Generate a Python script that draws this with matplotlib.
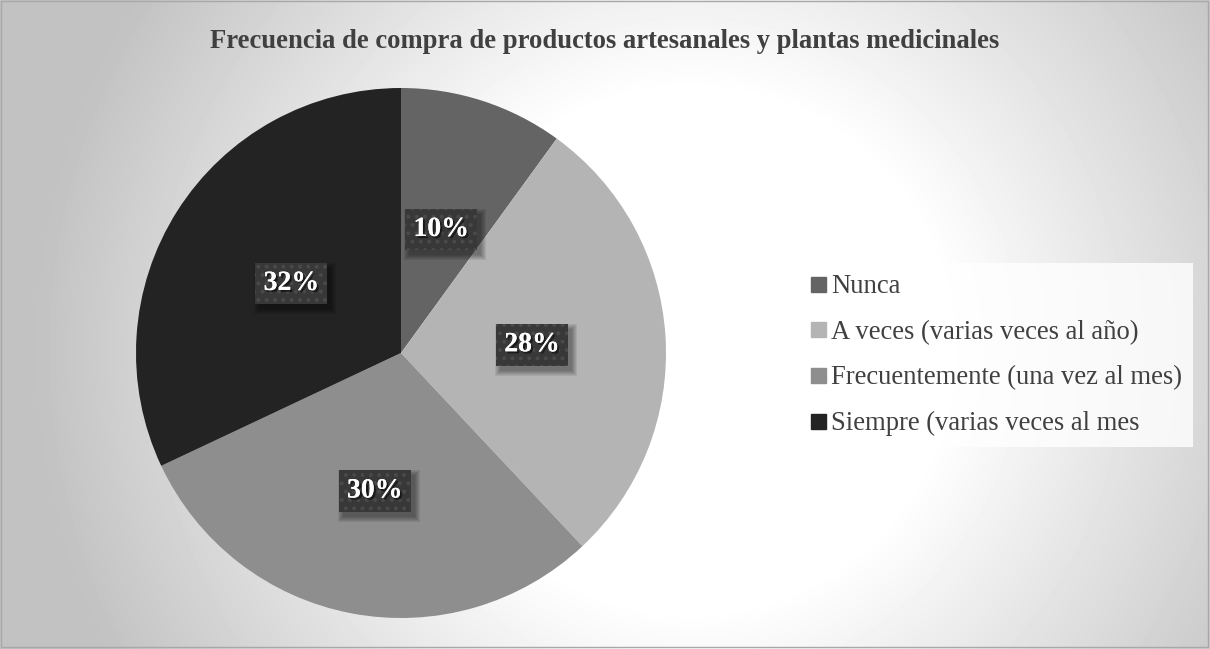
import numpy as np
import matplotlib.pyplot as plt
import matplotlib.patheffects as pe
from matplotlib.lines import Line2D
from matplotlib.patches import Rectangle
from matplotlib.transforms import IdentityTransform

plt.rcParams['font.family'] = ['Liberation Serif', 'DejaVu Serif']
plt.rcParams['hatch.linewidth'] = 1.6

title = "Frecuencia de compra de productos artesanales y plantas medicinales"
categories = ["Nunca", "A veces (varias veces al año)",
              "Frecuentemente (una vez al mes)", "Siempre (varias veces al mes"]
shares = [10, 28, 30, 32]
colors = ["#646464", "#b4b4b4", "#8e8e8e", "#232323"]

W, H = 1210, 649
fig = plt.figure(figsize=(W / 100, H / 100), dpi=100)

# radial grey background: white core that fades towards the edges
bg = fig.add_axes([0, 0, 1, 1])
yy, xx = np.mgrid[0:H, 0:W]
dist = np.hypot(xx - 690, yy - 350)
shade = np.clip(1.0 - 0.23 * (dist - 260) / 380, 0.76, 1.0)
bg.imshow(shade, cmap="gray", vmin=0, vmax=1, extent=[0, W, H, 0],
          aspect="auto", interpolation="bilinear")
bg.add_patch(Rectangle((1, 1), W - 3, H - 3, fill=False, ec="#a8a8a8", lw=1))
bg.set_xlim(0, W)
bg.set_ylim(H, 0)
bg.axis("off")

bg.text(605, 42, title, ha="center", va="center", fontsize=19.2,
        fontweight="bold", color="#404040")

# pie
cx, cy, r = 401, 353, 265
ax = fig.add_axes([(cx - r) / W, (H - cy - r) / H, 2 * r / W, 2 * r / H])
wedges, _ = ax.pie(shares, colors=colors, startangle=90, counterclock=False,
                   radius=1.0, wedgeprops=dict(linewidth=0))
ax.set_xlim(-1, 1)
ax.set_ylim(-1, 1)
ax.set_aspect("equal")

label_r = [0.49, 0.495, 0.53, 0.49]
total = sum(shares)
start = 90.0
labels = []
for v, rr in zip(shares, label_r):
    mid = np.deg2rad(start - 360 * v / total / 2)
    start -= 360 * v / total
    t = ax.text(rr * np.cos(mid), rr * np.sin(mid), f"{round(100 * v / total)}%",
                ha="center", va="center", fontsize=20, fontweight="bold",
                color="white", zorder=4,
                path_effects=[pe.withSimplePatchShadow(offset=(1.5, -1.5),
                                                       shadow_rgbFace="black",
                                                       alpha=0.55),
                              pe.Normal()],
                bbox=dict(boxstyle="square,pad=0.3", fc="#383838", ec="#4a4a4a",
                          lw=0, hatch=".."))
    labels.append(t)

# soft drop shadow under each label box
fig.canvas.draw()
renderer = fig.canvas.get_renderer()
for t in labels:
    bb = t.get_bbox_patch().get_window_extent(renderer)
    for k in range(6):
        ax.add_patch(Rectangle((bb.x0 + 4 - k, bb.y0 - 5 - k),
                               bb.width + 2 * k, bb.height + 2 * k,
                               transform=IdentityTransform(), fc="black",
                               ec="none", alpha=0.07, zorder=3))

# legend
handles = [Line2D([], [], marker="s", ls="none", ms=10.8, mfc=c, mec=c) for c in colors]
leg = fig.legend(handles, categories, loc="upper left",
                 bbox_to_anchor=(799 / W, 1 - 263 / H), frameon=True,
                 fontsize=19.2, labelcolor="#404040", handlelength=0.6,
                 handletextpad=0.19, labelspacing=0.77, borderpad=0.42,
                 borderaxespad=0, fancybox=False)
leg.get_frame().set_facecolor((1, 1, 1, 0.45))
leg.get_frame().set_edgecolor("none")

fig.savefig("out.png", dpi=100)
